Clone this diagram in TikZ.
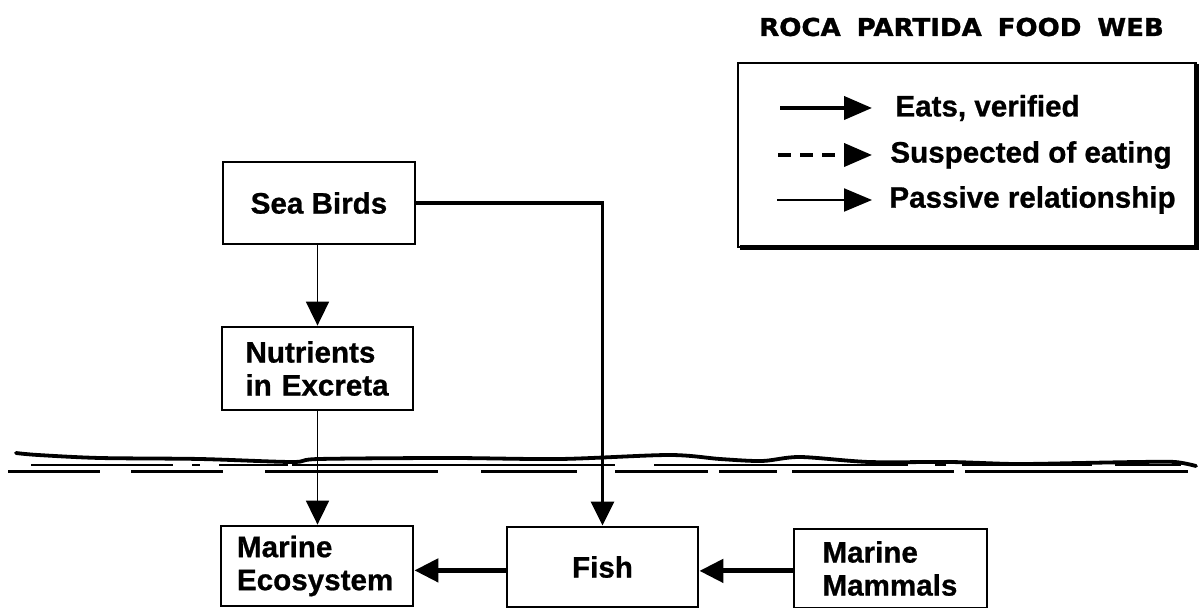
\documentclass[tikz,border=0pt]{standalone}
\usepackage{fontspec}
\setmainfont{Liberation Sans}[BoldFeatures={FakeBold=0.8}]
\newfontfamily\titlefont{DejaVu Sans}[BoldFeatures={FakeBold=1.2}]
\usetikzlibrary{arrows.meta}
\begin{document}
\begin{tikzpicture}[x=0.5pt,y=-0.5pt,
  box/.style={draw, line width=1.4pt, inner sep=0pt, align=left,
    font=\fontsize{14.8}{16.5}\selectfont\bfseries},
  tip/.style={-{Triangle[length=12pt,width=11.5pt]}},
  thinarrow/.style={tip, line width=0.9pt},
  medarrow/.style={tip, line width=1.6pt},
  thickarrow/.style={tip, line width=2.4pt},
  legtip/.style={-{Triangle[length=14pt,width=11.5pt]}},
  legtext/.style={anchor=west, inner sep=0pt, font=\fontsize{14.8}{16}\selectfont\bfseries},
  sealine/.style={line width=1.9pt, line cap=round},
  seadash/.style={line width=1.2pt}
]
\useasboundingbox (0,0) rectangle (1199,608);

% title
\node (title) at (961.5,27) {\titlefont\bfseries\fontsize{12.3}{14}\selectfont
  \scalebox{1.06}[1]{ROCA\hspace{7.5pt}PARTIDA\hspace{7.5pt}FOOD\hspace{7.5pt}WEB}};

% legend
\draw[line width=1.3pt] (738,63) rectangle (1196,247);
\node[draw=none, minimum width=229pt, minimum height=92pt, inner sep=0pt] (leg) at (967,155) {};
\draw[line width=2.6pt] (740,247.5) -- (1197,247.5) -- (1197,64);
\coordinate (l1a) at (780,108); \coordinate (l1b) at (872,108);
\coordinate (l2a) at (778,155); \coordinate (l2b) at (872,155);
\coordinate (l3a) at (777,200); \coordinate (l3b) at (872,200);
\draw[legtip, line width=2pt] (l1a) -- (l1b);
\draw[legtip, line width=2pt, dash pattern=on 6.5pt off 4.5pt] (l2a) -- (l2b);
\draw[legtip, line width=1pt] (l3a) -- (l3b);
\node[legtext] (t1) at (895,108) {Eats, verified};
\node[legtext] (t2) at (890,155) {Suspected of eating};
\node[legtext] (t3) at (889,200) {Passive relationship};

% boxes
\node[box, minimum width=96pt, minimum height=41pt, align=center] (sb) at (319,203) {Sea Birds};
\node[box, minimum width=95.5pt, minimum height=41.5pt, text width=72pt] (nu) at (317.5,368.5) {Nutrients\\in Excreta};
\node[box, minimum width=96pt, minimum height=40pt, text width=80pt] (me) at (317,566) {Marine\\Ecosystem};
\node[box, minimum width=95.5pt, minimum height=40pt, align=center] (fi) at (602.5,567) {Fish};
\node[box, minimum width=96.5pt, minimum height=39.5pt, text width=68pt] (mm) at (890.5,568.5) {Marine\\Mammals};

% sea surface
\draw[sealine] plot[smooth] coordinates {(16,453) (38,455) (100,458) (200,459) (292,462) (319,459)
  (450,458) (560,459) (669,455) (720,459) (762,461) (800,457) (869,462) (950,462)
  (1015,464) (1080,463) (1138,462) (1175,462) (1196,466)};
\foreach \a/\b in {31/173, 192/200, 219/288, 292/615, 654/908, 935/946, 962/1092, 1115/1181}
  \draw[seadash] (\a,465) -- (\b,465);
\foreach \a/\b in {8/100, 131/223, 265/438, 481/577, 615/708, 719/777, 792/954, 965/1188}
  \draw[seadash] (\a,471.5) -- (\b,471.5);

% connectors
\draw[thinarrow] (nu.north |- sb.south) -- (nu.north);
\draw[thinarrow] (nu.south) -- (nu.south |- me.north);
\draw[medarrow] (sb.east) -| (fi.north);
\draw[thickarrow] ([yshift=-1.7pt]fi.west) -- ([yshift=-1.7pt]fi.west -| me.east);
\draw[thickarrow] ([yshift=-1.2pt]mm.west) -- ([yshift=-1.2pt]mm.west -| fi.east);
\end{tikzpicture}
\end{document}
